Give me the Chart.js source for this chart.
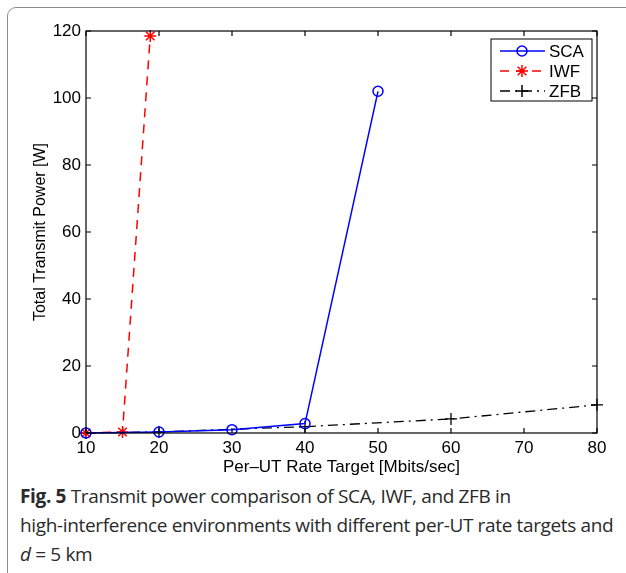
<!DOCTYPE html>
<html>
<head>
<meta charset="utf-8">
<script src="https://cdn.jsdelivr.net/npm/chart.js@4.4.0/dist/chart.umd.min.js"></script>
<style>
  body { margin: 0; background: #fff; width: 626px; height: 573px; overflow: hidden; position: relative; }
  #frame { position: absolute; left: 7px; top: 7px; width: 700px; height: 700px; border: 1.5px solid #8c8c8c; border-top-left-radius: 9px; }
  #wrap { position: absolute; left: 0; top: 0; width: 626px; height: 478px; }
  #caption { position: absolute; left: 20px; top: 482px; width: 610px; font-family: "Open Sans", sans-serif; font-size: 19px; line-height: 29px; letter-spacing: -0.35px; color: #2a2a2a; white-space: nowrap; }
  #caption b { font-weight: 700; }
</style>
</head>
<body>
<div id="frame"></div>
<div id="wrap"><canvas id="chart"></canvas></div>
<div id="caption"><b>Fig. 5</b> Transmit power comparison of SCA, IWF, and ZFB in<br>high-interference environments with different per-UT rate targets and<br><i>d</i> = 5 km</div>
<script>
// per-UT rate target [Mbits/sec] and total transmit power [W]
const scaRate = [10, 20, 30, 40, 50];
const scaPower = [0, 0.3, 1.0, 2.8, 102];
const iwfRate = [10, 15, 18.8];
const iwfPower = [0, 0.3, 118.5];
const zfbRate = [10, 20, 40, 60, 80];
const zfbPower = [0, 0.3, 1.9, 4.2, 8.4];

const xTicks = [10, 20, 30, 40, 50, 60, 70, 80];
const yTicks = [0, 20, 40, 60, 80, 100, 120];

function pts(xs, ys) {
  return xs.map(function(x, i) { return { x: x, y: ys[i] }; });
}

const series = [
  { label: "SCA", color: "#0000ff", dash: [], marker: "circle" },
  { label: "IWF", color: "#ff0000", dash: [9, 7], marker: "star" },
  { label: "ZFB", color: "#000000", dash: [10, 5, 2, 5], marker: "cross" }
];

function drawMarker(ctx, type, x, y, color) {
  ctx.save();
  ctx.setLineDash([]);
  ctx.strokeStyle = color;
  ctx.lineWidth = 1.5;
  ctx.beginPath();
  if (type === "circle") {
    ctx.arc(x, y, 5, 0, Math.PI * 2);
  } else if (type === "star") {
    const r = 6;
    ctx.moveTo(x - r, y); ctx.lineTo(x + r, y);
    ctx.moveTo(x, y - r); ctx.lineTo(x, y + r);
    const d = r * 0.72;
    ctx.moveTo(x - d, y - d); ctx.lineTo(x + d, y + d);
    ctx.moveTo(x - d, y + d); ctx.lineTo(x + d, y - d);
  } else {
    const r = 6;
    ctx.moveTo(x - r, y); ctx.lineTo(x + r, y);
    ctx.moveTo(x, y - r); ctx.lineTo(x, y + r);
  }
  ctx.stroke();
  ctx.restore();
}

// box, inward ticks and legend, MATLAB style
const boxPlugin = {
  id: "boxPlugin",
  afterDatasetsDraw: function(chart) {
    const ctx = chart.ctx;
    const a = chart.chartArea;
    const xs = chart.scales.x, ys = chart.scales.y;
    ctx.save();
    ctx.strokeStyle = "#000";
    ctx.lineWidth = 1.2;
    ctx.strokeRect(a.left, a.top, a.right - a.left, a.bottom - a.top);
    ctx.beginPath();
    xTicks.forEach(function(v) {
      const px = xs.getPixelForValue(v);
      ctx.moveTo(px, a.bottom); ctx.lineTo(px, a.bottom - 5);
      ctx.moveTo(px, a.top); ctx.lineTo(px, a.top + 5);
    });
    yTicks.forEach(function(v) {
      const py = ys.getPixelForValue(v);
      ctx.moveTo(a.left, py); ctx.lineTo(a.left + 5, py);
      ctx.moveTo(a.right, py); ctx.lineTo(a.right - 5, py);
    });
    ctx.stroke();

    // legend
    const lx = a.right - 106, ly = a.top + 8, lw = 101, lh = 62;
    ctx.fillStyle = "#fff";
    ctx.fillRect(lx, ly, lw, lh);
    ctx.lineWidth = 1;
    ctx.strokeRect(lx, ly, lw, lh);
    ctx.font = "17px 'Liberation Sans', Arial, sans-serif";
    ctx.textBaseline = "middle";
    series.forEach(function(s, i) {
      const yy = ly + 12 + i * 20;
      ctx.save();
      ctx.strokeStyle = s.color;
      ctx.lineWidth = 1.5;
      ctx.setLineDash(s.dash);
      ctx.beginPath();
      ctx.moveTo(lx + 9, yy); ctx.lineTo(lx + 54, yy);
      ctx.stroke();
      ctx.restore();
      drawMarker(ctx, s.marker, lx + 31, yy, s.color);
      ctx.fillStyle = "#000";
      ctx.fillText(s.label, lx + 58, yy + 1);
    });
    ctx.restore();
  }
};

const tickFont = { family: "'Liberation Sans', Arial, sans-serif", size: 17 };
const yTitleFont = { family: "'Liberation Sans', Arial, sans-serif", size: 16 };

new Chart(document.getElementById("chart"), {
  type: "line",
  data: {
    datasets: [
      { label: "SCA", data: pts(scaRate, scaPower), borderColor: "#0000ff", borderWidth: 1.5,
        pointStyle: "circle", pointRadius: 5, pointBorderWidth: 1.5, pointBorderColor: "#0000ff",
        pointBackgroundColor: "rgba(0,0,0,0)", tension: 0 },
      { label: "IWF", data: pts(iwfRate, iwfPower), borderColor: "#ff0000", borderWidth: 1.5, borderDash: [9, 7],
        pointStyle: "star", pointRadius: 6, pointBorderWidth: 1.5, pointBorderColor: "#ff0000", tension: 0 },
      { label: "ZFB", data: pts(zfbRate, zfbPower), borderColor: "#000000", borderWidth: 1.3, borderDash: [10, 5, 2, 5],
        pointStyle: "cross", pointRadius: 6, pointBorderWidth: 1.3, pointBorderColor: "#000000", tension: 0 }
    ]
  },
  options: {
    responsive: true,
    maintainAspectRatio: false,
    animation: false,
    clip: false,
    layout: { padding: { top: 31, right: 29, left: 0, bottom: 0 } },
    plugins: { legend: { display: false }, tooltip: { enabled: false } },
    scales: {
      x: {
        type: "linear", min: 10, max: 80,
        afterBuildTicks: function(s) { s.ticks = xTicks.map(function(v) { return { value: v }; }); },
        grid: { display: false, drawTicks: false },
        border: { display: false },
        ticks: { color: "#000", font: tickFont, padding: 5, maxRotation: 0 },
        title: { display: true, text: "Per\u2013UT Rate Target [Mbits/sec]", color: "#000", font: tickFont, padding: { top: 0, bottom: 0 } },
        afterFit: function(s) { s.height = 45; }
      },
      y: {
        min: 0, max: 120,
        afterBuildTicks: function(s) { s.ticks = yTicks.map(function(v) { return { value: v }; }); },
        grid: { display: false, drawTicks: false },
        border: { display: false },
        ticks: { color: "#000", font: tickFont, padding: 5 },
        title: { display: true, text: "Total Transmit Power [W]", color: "#000", font: yTitleFont, padding: { top: 31, bottom: 0 } },
        afterFit: function(s) { s.width = 86; }
      }
    }
  },
  plugins: [boxPlugin]
});
</script>
</body>
</html>
